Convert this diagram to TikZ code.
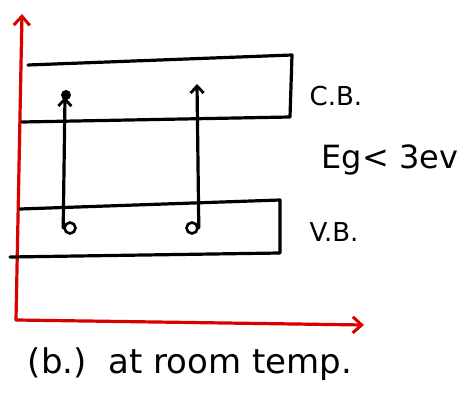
\documentclass[tikz,border=0pt]{standalone}
\usepackage{fontspec}
\setmainfont{DejaVu Sans}
\usetikzlibrary{arrows.meta}
\begin{document}
\begin{tikzpicture}[x=1pt,y=-1pt,
  ink/.style={line width=3.2pt,black,line cap=round,line join=round},
  axis/.style={line width=3.2pt,red!85!black,line cap=round,line join=round,-{Straight Barb[length=9pt,width=16pt,line width=3pt]}},
  upar/.style={ink,-{Straight Barb[length=7pt,width=13pt,line width=2.8pt]}},
  lbl/.style={font=\fontsize{26}{30}\selectfont,inner sep=0pt}]
\useasboundingbox (0,0) rectangle (466,403);
% axes
\coordinate (origin) at (16,320);
\coordinate (ytip) at (22,14);
\coordinate (xtip) at (364,325);
\draw[axis] (origin) -- (ytip);
\draw[axis] (origin) -- (xtip);
% conduction band
\coordinate (cbtl) at (28,65);
\coordinate (cbtr) at (292,55);
\coordinate (cbbr) at (290,117);
\coordinate (cbbl) at (22,122);
\draw[ink] (cbtl) -- (cbtr) -- (cbbr) -- (cbbl);
% valence band
\coordinate (vbtl) at (20,209);
\coordinate (vbtr) at (280,200);
\coordinate (vbbr) at (280,253);
\coordinate (vbbl) at (10,257);
\draw[ink] (vbtl) -- (vbtr) -- (vbbr) -- (vbbl);
% transitions
\node[circle,draw,line width=2.6pt,minimum size=11pt,inner sep=0pt] (h1) at (70,228) {};
\node[circle,draw,line width=2.6pt,minimum size=11pt,inner sep=0pt] (h2) at (192,228) {};
\node[circle,fill,minimum size=10pt,inner sep=0pt] (e1) at (66,95) {};
\coordinate (e2) at (197,84);
\draw[upar] (h1.west) -- (65,97);
\draw[upar] (h2.east) -- (e2);
% labels
\node[lbl] (cb) at (336,96) {C.B.};
\node[lbl,font=\fontsize{32}{36}\selectfont] (eg) at (390,160) {Eg< 3ev};
\node[lbl] (vb) at (334,232) {V.B.};
\node[lbl,font=\fontsize{34}{38}\selectfont] (cap) at (190,364) {(b.)\ \ at room temp.};
\end{tikzpicture}
\end{document}
